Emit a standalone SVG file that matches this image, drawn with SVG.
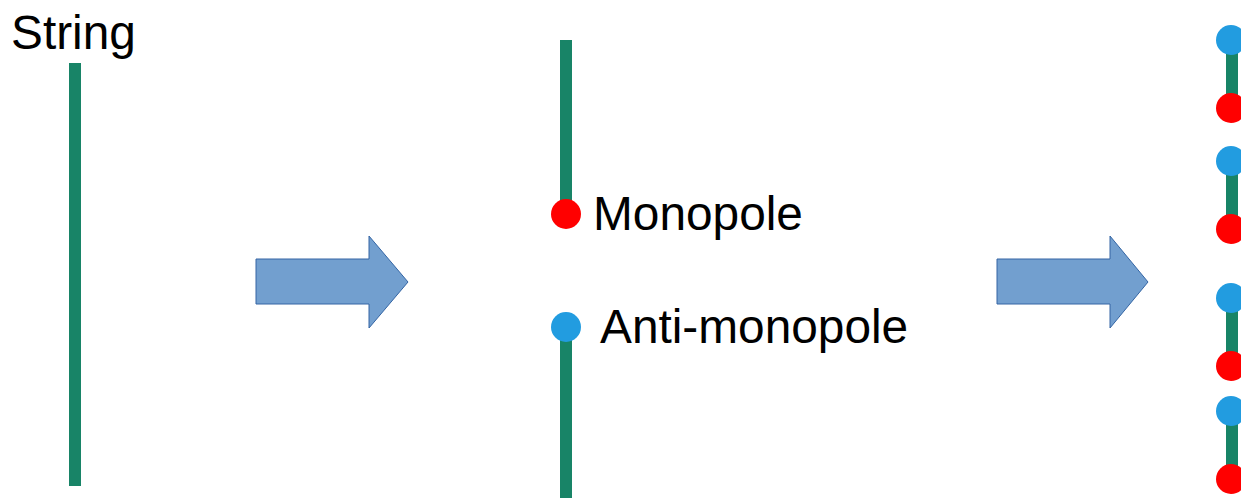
<svg xmlns="http://www.w3.org/2000/svg" width="1241" height="498" viewBox="0 0 1241 498">
  <style>
    .string { stroke: #188467; stroke-width: 12; fill: none; }
    .mono { fill: #ff0000; }
    .anti { fill: #229ce0; }
    .label { font-family: "Liberation Sans", Arial, sans-serif; font-size: 47.8px; fill: #000000; }
    .block-arrow { fill: #729fcf; stroke: #3465a4; stroke-width: 1; }
  </style>

  <!-- single unbroken string -->
  <g id="string">
    <text class="label" x="11" y="49">String</text>
    <line class="string" x1="75" y1="63" x2="75" y2="486"/>
  </g>

  <!-- string broken into monopole / anti-monopole ends -->
  <g id="monopole">
    <line class="string" x1="566" y1="40" x2="566" y2="214"/>
    <circle class="mono" cx="566" cy="214" r="15"/>
    <text class="label" x="593" y="230">Monopole</text>
  </g>
  <g id="anti-monopole">
    <line class="string" x1="566" y1="327" x2="566" y2="498"/>
    <circle class="anti" cx="566" cy="327" r="15"/>
    <text class="label" x="600" y="343">Anti-monopole</text>
  </g>

  <!-- short segments, each bounded by a pair -->
  <g id="segment-1">
    <line class="string" x1="1232" y1="40" x2="1232" y2="108"/>
    <circle class="anti" cx="1231" cy="40" r="15"/>
    <circle class="mono" cx="1231" cy="108" r="15"/>
  </g>
  <g id="segment-2">
    <line class="string" x1="1232" y1="161" x2="1232" y2="229"/>
    <circle class="anti" cx="1231" cy="161" r="15"/>
    <circle class="mono" cx="1231" cy="229" r="15"/>
  </g>
  <g id="segment-3">
    <line class="string" x1="1232" y1="298" x2="1232" y2="366"/>
    <circle class="anti" cx="1231" cy="298" r="15"/>
    <circle class="mono" cx="1231" cy="366" r="15"/>
  </g>
  <g id="segment-4">
    <line class="string" x1="1232" y1="411" x2="1232" y2="479"/>
    <circle class="anti" cx="1231" cy="411" r="15"/>
    <circle class="mono" cx="1231" cy="479" r="15"/>
  </g>

  <!-- block arrows between stages -->
  <g id="connectors">
    <path class="block-arrow" d="M256,259 H369 V236 L408,282 L369,328 V304 H256 Z"/>
    <path class="block-arrow" d="M997,259 H1110 V236 L1148,282 L1110,328 V304 H997 Z"/>
  </g>
</svg>
